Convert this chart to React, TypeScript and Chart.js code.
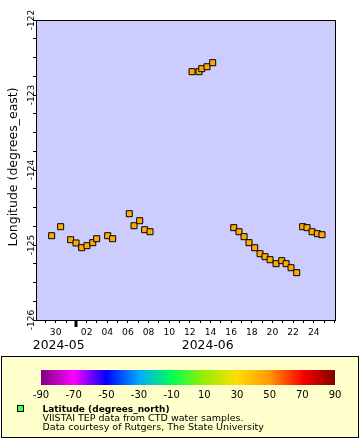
import React, { useEffect, useRef } from 'react';
import { Chart, registerables } from 'chart.js';

Chart.register(...registerables);

// x values: days since 2024-05-01 00:00 (so 29 = May 30, 31 = Jun 1)
const sampleDays = [
  28.61, 29.48, 30.45, 30.97, 31.52, 32.03, 32.59, 32.97, 34.04, 34.52,
  36.13, 36.59, 37.14, 37.62, 38.14,
  42.21, 42.89, 43.15, 43.66, 44.21,
  46.25, 46.76, 47.25, 47.73, 48.28, 48.8, 49.28, 49.77, 50.35, 50.9, 51.32, 51.8, 52.35,
  52.93, 53.35, 53.84, 54.35, 54.8,
];
const longitudes = [
  -124.876, -124.756, -124.929, -124.973, -125.036, -125.009, -124.969, -124.916, -124.876, -124.916,
  -124.583, -124.743, -124.676, -124.796, -124.823,
  -122.689, -122.689, -122.649, -122.623, -122.569,
  -124.769, -124.823, -124.889, -124.969, -125.036, -125.116, -125.156, -125.196, -125.249, -125.209, -125.249, -125.303, -125.369,
  -124.756, -124.769, -124.823, -124.849, -124.863,
];
const latitudes = [
  44.6, 44.6, 44.6, 44.6, 44.6, 44.6, 44.6, 44.6, 44.6, 44.6,
  44.6, 44.6, 44.6, 44.6, 44.6,
  45.5, 45.5, 45.5, 45.5, 45.5,
  44.6, 44.6, 44.6, 44.6, 44.6, 44.6, 44.6, 44.6, 44.6, 44.6, 44.6, 44.6, 44.6,
  44.6, 44.6, 44.6, 44.6, 44.6,
];

const xMin = 27.19;
const xMax = 56.06;
const yMin = -126;
const yMax = -122;

const xTickDays = [29, 32, 34, 36, 38, 40, 42, 44, 46, 48, 50, 52, 54];
const xTickLabels = ['30', '02', '04', '06', '08', '10', '12', '14', '16', '18', '20', '22', '24'];
const monthStarts = [0, 31, 61];
const monthLabels = ['2024-05', '2024-06', '2024-07'];

const yTickValues = [-126, -125, -124, -123, -122];
const yTickLabels = ['-126', '-125', '-124', '-123', '-122'];
const yMinorStep = 0.25;

const colorbarValues = [-90, -70, -50, -30, -10, 10, 30, 50, 70, 90];
const colorbarColors = ['#800080', '#ff00ff', '#0000ff', '#00aaff', '#00ff55', '#99ee00', '#ffdd00', '#ff9900', '#ff0000', '#800000'];

const yTitle = 'Longitude (degrees_east)';
const legendTitle = 'Latitude (degrees_north)';
const legendLines = ['VIISTAI TEP data from CTD water samples.', 'Data courtesy of Rutgers, The State University'];

const FONT = '"DejaVu Sans", sans-serif';

function hexToRgb(h: string) {
  const n = parseInt(h.slice(1), 16);
  return [(n >> 16) & 255, (n >> 8) & 255, n & 255];
}
function colorFor(v: number) {
  const vals = colorbarValues;
  if (v <= vals[0]) return colorbarColors[0];
  if (v >= vals[vals.length - 1]) return colorbarColors[vals.length - 1];
  let i = 0;
  while (v > vals[i + 1]) i++;
  const t = (v - vals[i]) / (vals[i + 1] - vals[i]);
  const a = hexToRgb(colorbarColors[i]);
  const b = hexToRgb(colorbarColors[i + 1]);
  const c = a.map((x, k) => Math.round(x + (b[k] - x) * t));
  return `rgb(${c[0]},${c[1]},${c[2]})`;
}

const erddapPlugin = {
  id: 'erddapPlugin',
  beforeDraw(chart: any) {
    const { ctx, chartArea: a, width, height } = chart;
    ctx.save();
    ctx.fillStyle = '#ffffff';
    ctx.fillRect(0, 0, width, height);
    ctx.fillStyle = '#ccccff';
    ctx.fillRect(a.left, a.top, a.right - a.left, a.bottom - a.top);
    ctx.restore();
  },
  afterDraw(chart: any) {
    const { ctx, chartArea: a } = chart;
    const xs = chart.scales.x;
    const ys = chart.scales.y;
    ctx.save();
    // frame
    ctx.strokeStyle = '#000';
    ctx.lineWidth = 1;
    ctx.strokeRect(a.left - 0.5, a.top + 0.5, a.right - a.left + 1, a.bottom - a.top);

    // month boundary ticks
    ctx.fillStyle = '#000';
    monthStarts.forEach((s) => {
      if (s > xs.min && s < xs.max) {
        const px = xs.getPixelForValue(s);
        ctx.fillRect(Math.round(px) - 1.5, a.bottom, 3, 7);
      }
    });

    // y tick labels (rotated)
    ctx.font = `9px ${FONT}`;
    ctx.textAlign = 'center';
    ctx.textBaseline = 'alphabetic';
    yTickValues.forEach((v, i) => {
      const py = ys.getPixelForValue(v);
      ctx.save();
      ctx.translate(34, py);
      ctx.rotate(-Math.PI / 2);
      ctx.fillText(yTickLabels[i], 0, 0);
      ctx.restore();
    });

    // y title
    ctx.save();
    ctx.font = `12.5px ${FONT}`;
    ctx.translate(16.5, (a.top + a.bottom) / 2 - 3);
    ctx.rotate(-Math.PI / 2);
    ctx.fillText(yTitle, 0, 0);
    ctx.restore();

    // month labels
    ctx.font = `12.4px ${FONT}`;
    monthStarts.forEach((s, i) => {
      const e = i + 1 < monthStarts.length ? monthStarts[i + 1] : Infinity;
      const lo = Math.max(s, xs.min);
      const hi = Math.min(e, xs.max);
      if (hi <= lo) return;
      const cx = (xs.getPixelForValue(lo) + xs.getPixelForValue(hi)) / 2;
      ctx.fillText(monthLabels[i], cx + 2, 349);
    });

    // legend box
    ctx.fillStyle = '#ffffcc';
    ctx.fillRect(1, 356, 358, 82);
    ctx.strokeStyle = '#000';
    ctx.strokeRect(1.5, 356.5, 357, 81);

    // colorbar
    const cbL = 41, cbR = 335, cbT = 370, cbH = 15;
    const g = ctx.createLinearGradient(cbL, 0, cbR, 0);
    colorbarValues.forEach((v, i) => {
      g.addColorStop((v - colorbarValues[0]) / (colorbarValues[colorbarValues.length - 1] - colorbarValues[0]), colorbarColors[i]);
    });
    ctx.fillStyle = g;
    ctx.fillRect(cbL, cbT, cbR - cbL, cbH);
    ctx.fillStyle = '#000';
    ctx.font = `10px ${FONT}`;
    ctx.textAlign = 'center';
    colorbarValues.forEach((v) => {
      const px = cbL + ((v - colorbarValues[0]) / (colorbarValues[colorbarValues.length - 1] - colorbarValues[0])) * (cbR - cbL);
      ctx.fillText(String(v), px, 398);
    });

    // legend marker and text
    ctx.fillStyle = '#44ff44';
    ctx.fillRect(17.5, 405.5, 6, 6);
    ctx.strokeRect(17.5, 405.5, 6, 6);
    ctx.fillStyle = '#000';
    ctx.textAlign = 'left';
    ctx.font = `bold 9px ${FONT}`;
    ctx.fillText(legendTitle, 42.5, 411.5);
    ctx.font = `9.5px ${FONT}`;
    ctx.fillText(legendLines[0], 42.5, 420.8);
    ctx.fillText(legendLines[1], 42.5, 430);
    ctx.restore();
  },
};

export default function App() {
  const ref = useRef<HTMLCanvasElement | null>(null);
  useEffect(() => {
    if (!ref.current) return;
    const points = sampleDays.map((d, i) => ({ x: d, y: longitudes[i] }));
    const chart = new Chart(ref.current, {
      type: 'scatter',
      data: {
        datasets: [
          {
            label: legendTitle,
            data: points,
            pointStyle: 'rect',
            pointRadius: 4.25,
            pointHoverRadius: 4.25,
            pointBorderWidth: 1,
            pointBorderColor: '#000',
            pointBackgroundColor: latitudes.map(colorFor),
            showLine: false,
          },
        ],
      },
      options: {
        responsive: false,
        animation: false,
        devicePixelRatio: 1,
        layout: { padding: { left: 0, right: 25, top: 20, bottom: 0 } },
        plugins: { legend: { display: false }, tooltip: { enabled: false } },
        scales: {
          x: {
            type: 'linear',
            min: xMin,
            max: xMax,
            afterBuildTicks: (scale: any) => {
              const t = [];
              for (let d = Math.ceil(xMin); d <= Math.floor(xMax); d++) t.push({ value: d });
              scale.ticks = t;
            },
            afterFit: (scale: any) => {
              scale.height = 120;
            },
            ticks: {
              autoSkip: false,
              maxRotation: 0,
              minRotation: 0,
              padding: 4,
              color: '#000',
              font: { family: FONT, size: 9.2 },
              callback: (v: any) => {
                const i = xTickDays.indexOf(Number(v));
                return i >= 0 ? xTickLabels[i] : '';
              },
            },
            grid: { drawOnChartArea: false, drawTicks: true, tickLength: 3, color: '#000' },
            border: { display: false },
          },
          y: {
            type: 'linear',
            min: yMin,
            max: yMax,
            afterBuildTicks: (scale: any) => {
              const t = [];
              for (let v = yMin; v <= yMax + 1e-9; v += yMinorStep) t.push({ value: Math.round(v * 100) / 100 });
              scale.ticks = t;
            },
            afterFit: (scale: any) => {
              scale.width = 37;
            },
            ticks: { display: false },
            grid: { drawOnChartArea: false, drawTicks: true, tickLength: 4, color: '#000' },
            border: { display: false },
          },
        },
      },
      plugins: [erddapPlugin],
    });
    return () => chart.destroy();
  }, []);
  return (
    <div style={{ position: 'fixed', left: 0, top: 0, width: 360, height: 440 }}>
      <canvas ref={ref} width={360} height={440} style={{ display: 'block' }} />
    </div>
  );
}
